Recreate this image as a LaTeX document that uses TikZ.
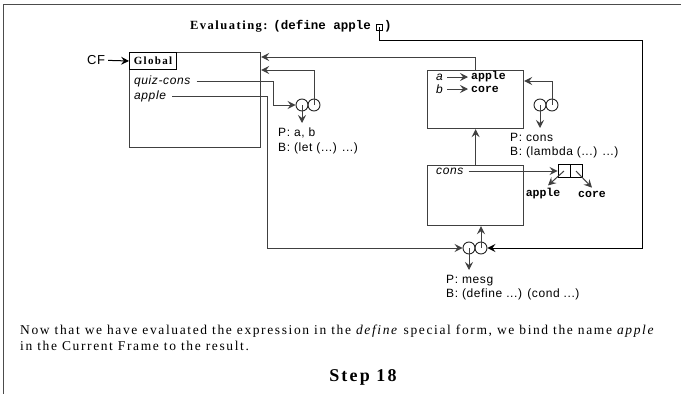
\documentclass[tikz,border=0pt]{standalone}
\usepackage{fontspec}
\setmainfont{Liberation Serif}
\setsansfont{Liberation Sans}
\setmonofont{Liberation Mono}
\newfontfamily\lblfont[LetterSpace=5]{Liberation Sans}
\newfontfamily\txtfont[LetterSpace=12]{Liberation Serif}
\usetikzlibrary{arrows.meta,calc}

\tikzset{
  frame/.style={draw=black!75,line width=1.2pt,anchor=north west,inner sep=0pt},
  ring/.style={draw=black!85,circle,minimum size=12pt,inner sep=0pt,line width=0.9pt},
  lbl/.style={font=\lblfont\fontsize{12}{14.5}\selectfont,inner sep=0pt,align=left,anchor=north west},
  var/.style={font=\lblfont\itshape\fontsize{12}{14}\selectfont,inner sep=0pt,anchor=west},
  val/.style={font=\ttfamily\bfseries\fontsize{11.5}{13}\selectfont,inner sep=0pt},
  ptr/.style={->,line width=1pt,draw=black!75}
}

\begin{document}
\begin{tikzpicture}[x=1pt,y=-1pt,>={Stealth[length=8pt,width=8pt,inset=3pt]}]
  \useasboundingbox (0,0) rectangle (681,394);
  % borde de la hoja
  \draw[black!70,line width=1pt] (3,394) -- (3,4) -- (681,4);
  % titulo
  \node[anchor=east,inner sep=0pt,font=\bfseries\fontsize{12.5}{14}\selectfont] (ttl) at (371,26)
    {{\txtfont Evaluating:} \texttt{(define apple}};
  \node[draw,inner sep=0pt,minimum size=6pt,line width=0.8pt] (tb) at (379.5,27) {};
  \node[anchor=west,inner sep=0pt,font=\ttfamily\bfseries\fontsize{12.5}{14}\selectfont] (tcl) at (384,26) {)};
  % marcos
  \node[frame,minimum width=131pt,minimum height=95pt] (glob) at (129,52) {};
  \node[frame,draw=black,line width=1pt,minimum width=47pt,minimum height=17pt,font=\txtfont\bfseries\fontsize{11}{13}\selectfont] (gname) at (129,52) {Global};
  \node[font=\lblfont\fontsize{13}{15}\selectfont,inner sep=0pt] (cf) at (96,60) {CF};
  \draw[ptr,draw=black,shorten <=3pt] (cf) -- (gname.west);
  \node[var] (qc) at (134,81) {quiz-cons};
  \node[var] (gapple) at (134,96) {apple};
  \node[frame,minimum width=96pt,minimum height=58pt] (e1) at (427,70) {};
  \node[var] (va) at (436,77) {a};
  \node[var] (vb) at (436,89) {b};
  \node[val,anchor=west] (xa) at (471,77) {apple};
  \node[val,anchor=west] (xb) at (471,89) {core};
  \draw[ptr,shorten <=4pt,shorten >=3pt] (va) -- (xa);
  \draw[ptr,shorten <=4pt,shorten >=3pt] (vb) -- (xb);
  \node[frame,minimum width=96pt,minimum height=60pt] (e2) at (427,165) {};
  \node[var] (vcons) at (436,171) {cons};
  % procedimientos
  \foreach \n/\x/\y in {p1/302/105,p2/540/105,p3/469/248}{
    \node[ring] (\n-l) at (\x,\y) {};
    \node[ring] (\n-r) at (\x+12,\y) {};
  }
  \node[lbl] (t1) at (278,128) {P: a, b\\B: (let (...) ...)};
  \node[lbl] (t2) at (510,133) {P: cons\\B: (lambda (...) ...)};
  \node[lbl] (t3) at (446,275) {P: mesg\\B: (define ...) (cond ...)};
  \foreach \n/\t in {p1/t1,p2/t2,p3/t3}
    \draw[ptr] (\n-l.center) -- ([yshift=5pt]\n-l.center |- \t.north);
  % par cons
  \node[draw,line width=0.9pt,minimum width=12pt,minimum height=13pt,inner sep=0pt] (cl) at (564,171) {};
  \node[draw,line width=0.9pt,minimum width=12pt,minimum height=13pt,inner sep=0pt] (cr) at (576,171) {};
  \node[val] (capple) at (543,194) {apple};
  \node[val] (ccore) at (592,194) {core};
  \draw[ptr,shorten <=5pt] (vcons.east) -- (cl.west);
  \draw[ptr] (cl.center) -- ([xshift=5pt,yshift=3pt]capple.north);
  \draw[ptr] (cr.center) -- ([yshift=3pt]ccore.north);
  % enlaces
  \draw[ptr,shorten <=6pt] (qc.east) -| ($(glob.east)+(12,0)$) |- (p1-l.west);
  \draw[ptr,shorten <=6pt] (gapple.east) -| ($(glob.east)+(6,0)$) |- (p3-l.west);
  \draw[ptr] (p1-r.center) |- ([yshift=-18pt]glob.north east);
  \draw[ptr] (e1.north) |- ([yshift=-5pt]glob.north east);
  \draw[ptr] (p2-r.center) |- ([yshift=-11pt]e1.north east);
  \draw[ptr] (e2.north) -- (e1.south);
  \draw[ptr] (p3-r.center) -- (p3-r.center |- e2.south);
  \draw[ptr,draw=black] (tb.center) -- ++(0,13) -| ($(p3-r.east)+(155,0)$) -- (p3-r.east);
  % texto
  \node[anchor=north west,inner sep=0pt,align=left,font=\txtfont\fontsize{13.5}{16}\selectfont] (msg) at (20,325)
    {Now that we have evaluated the expression in the \textit{define} special form, we bind the name \textit{apple}\\
     in the Current Frame to the result.};
  \node[inner sep=0pt,font=\txtfont\bfseries\fontsize{18}{20}\selectfont] (step) at (363,377) {Step 18};
\end{tikzpicture}
\end{document}
